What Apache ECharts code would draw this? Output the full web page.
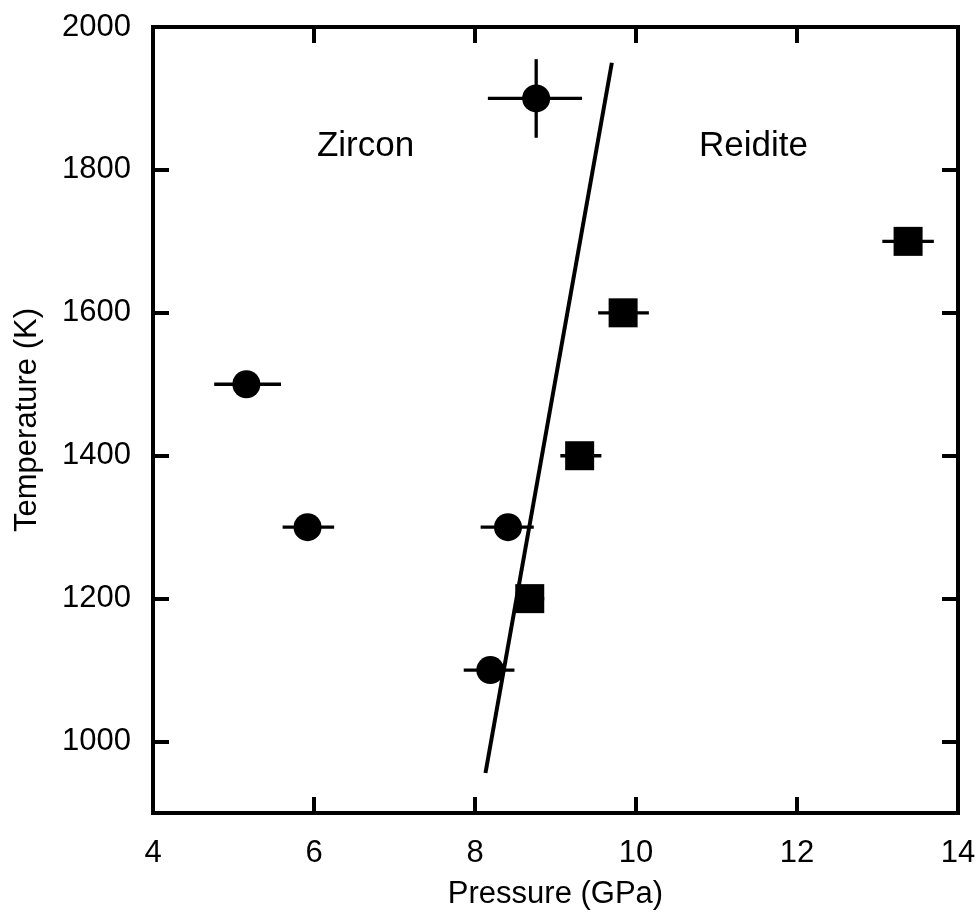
<!DOCTYPE html>
<html lang="en">
<head>
    <meta charset="UTF-8">
    <title>Zircon - Reidite</title>
    <style>
        html, body {
            margin: 0;
            padding: 0;
            background: #fff;
        }

        #main {
            width: 977px;
            height: 912px;
        }
    </style>
</head>
<body>

<div id="main"></div>

<script src="https://cdn.jsdelivr.net/npm/echarts@6/dist/echarts.min.js"></script>
<script>
  // 数据：锆石（圆点）和 reidite（方块）
  var zirconP = [8.76, 5.16, 5.92, 8.41, 8.19];
  var zirconT = [1900, 1500, 1300, 1300, 1100];
  var zirconPLo = [8.16, 4.76, 5.61, 8.07, 7.86];
  var zirconPHi = [9.33, 5.59, 6.25, 8.73, 8.49];
  var zirconTErr = [55, 0, 0, 0, 0];

  var reiditeP = [8.68, 9.30, 9.84, 13.38];
  var reiditeT = [1200, 1400, 1600, 1700];
  var reiditePLo = [8.50, 9.06, 9.53, 13.06];
  var reiditePHi = [8.86, 9.57, 10.16, 13.70];
  var reiditeTErr = [0, 0, 0, 0];

  // 相界线
  var boundaryP = [8.13, 9.70];
  var boundaryT = [956, 1950];

  // 区域文字
  var regionNames = ['Zircon', 'Reidite'];
  var regionP = [6.64, 11.46];
  var regionT = [1833, 1833];

  var yTicks = [1000, 1200, 1400, 1600, 1800, 2000];

  var font = '"Liberation Sans", Arial, sans-serif';
  var fs = 31;

  function zip(a, b) {
    return a.map(function (v, i) { return [v, b[i]]; });
  }

  function errData(p, t, lo, hi, te) {
    return p.map(function (v, i) { return [v, t[i], lo[i], hi[i], te[i]]; });
  }

  function renderErr(params, api) {
    var p = api.value(0), t = api.value(1);
    var a = api.coord([api.value(2), t]);
    var b = api.coord([api.value(3), t]);
    var style = {stroke: '#000', lineWidth: 3.3};
    var kids = [{
      type: 'line',
      shape: {x1: a[0], y1: a[1], x2: b[0], y2: b[1]},
      style: style
    }];
    var te = api.value(4);
    if (te > 0) {
      var c = api.coord([p, t - te]);
      var d = api.coord([p, t + te]);
      kids.push({
        type: 'line',
        shape: {x1: c[0], y1: c[1], x2: d[0], y2: d[1]},
        style: style
      });
    }
    return {type: 'group', children: kids};
  }

  var myChart = echarts.init(document.getElementById('main'));

  var tickStyle = {show: true, inside: true, length: 16, lineStyle: {color: '#000', width: 4}};
  var yTickStyle = {show: true, inside: true, length: 16, lineStyle: {color: '#000', width: 4}, customValues: yTicks};

  var option = {
    backgroundColor: '#fff',
    animation: false,
    grid: {
      left: 153, right: 19, top: 27, bottom: 99,
      outerBoundsMode: 'none',
      containLabel: false,
      show: true,
      borderColor: '#000',
      borderWidth: 4
    },
    xAxis: [{
      type: 'value',
      min: 4, max: 14, interval: 2,
      position: 'bottom',
      name: 'Pressure (GPa)',
      nameLocation: 'middle',
      nameGap: 66,
      nameTextStyle: {color: '#000', fontSize: fs, fontFamily: font},
      axisLine: {show: false},
      axisTick: tickStyle,
      splitLine: {show: false},
      axisLabel: {color: '#000', fontSize: fs, fontFamily: font, margin: 25}
    }, {
      type: 'value',
      min: 4, max: 14, interval: 2,
      position: 'top',
      axisLine: {show: false},
      axisTick: tickStyle,
      splitLine: {show: false},
      axisLabel: {show: false}
    }],
    yAxis: [{
      type: 'value',
      min: 900, max: 2000,
      position: 'left',
      name: 'Temperature (K)',
      nameLocation: 'middle',
      nameGap: 110,
      nameRotate: 90,
      nameTextStyle: {color: '#000', fontSize: fs, fontFamily: font},
      axisLine: {show: false},
      axisTick: yTickStyle,
      splitLine: {show: false},
      axisLabel: {
        color: '#000', fontSize: fs, fontFamily: font, margin: 22, customValues: yTicks,
        formatter: function (v) { return String(v); }
      }
    }, {
      type: 'value',
      min: 900, max: 2000,
      position: 'right',
      axisLine: {show: false},
      axisTick: yTickStyle,
      splitLine: {show: false},
      axisLabel: {show: false}
    }],
    series: [{
      type: 'line',
      data: zip(boundaryP, boundaryT),
      symbol: 'none',
      lineStyle: {color: '#000', width: 4},
      z: 3
    }, {
      type: 'custom',
      renderItem: renderErr,
      data: errData(zirconP, zirconT, zirconPLo, zirconPHi, zirconTErr),
      z: 4
    }, {
      type: 'custom',
      renderItem: renderErr,
      data: errData(reiditeP, reiditeT, reiditePLo, reiditePHi, reiditeTErr),
      z: 4
    }, {
      type: 'scatter',
      data: zip(zirconP, zirconT),
      symbol: 'circle',
      symbolSize: 28,
      itemStyle: {color: '#000', opacity: 1},
      z: 5
    }, {
      type: 'scatter',
      data: zip(reiditeP, reiditeT),
      symbol: 'rect',
      symbolSize: 29,
      itemStyle: {color: '#000', opacity: 1},
      z: 5
    }, {
      type: 'scatter',
      data: regionNames.map(function (n, i) {
        return {name: n, value: [regionP[i], regionT[i]]};
      }),
      symbolSize: 0,
      itemStyle: {opacity: 1},
      label: {
        show: true,
        position: 'inside',
        formatter: '{b}',
        color: '#000',
        fontSize: 35,
        fontFamily: font
      },
      silent: true,
      z: 6
    }]
  };
  myChart.setOption(option);
</script>
</body>
</html>
